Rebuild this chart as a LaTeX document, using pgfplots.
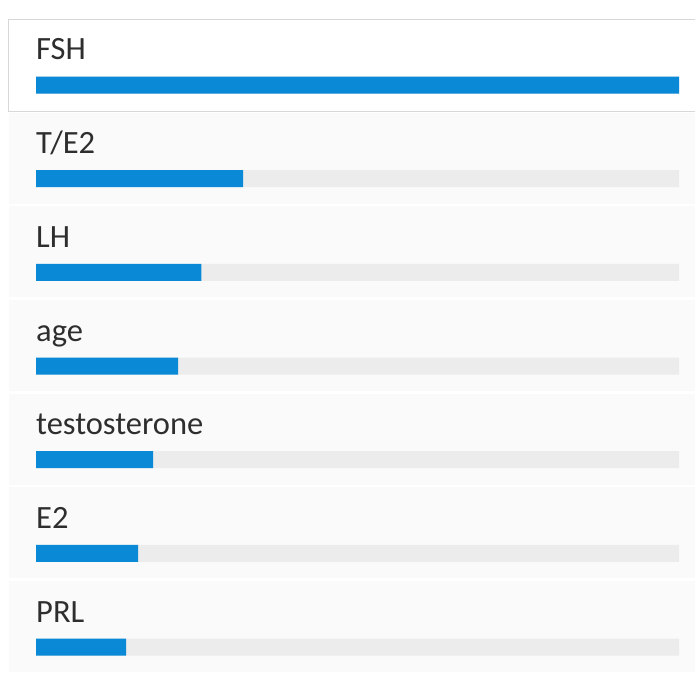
\documentclass[border=0pt]{standalone}
\usepackage{pgfplots}
\pgfplotsset{compat=1.18}
\usepackage{pgfplotstable}
\usepackage{fontspec}
\setmainfont{Carlito}
\definecolor{barblue}{HTML}{0A8AD6}
\definecolor{track}{HTML}{ECECEC}
\definecolor{rowbg}{HTML}{FAFAFA}
\definecolor{boxline}{HTML}{D8D8D8}
\definecolor{txt}{HTML}{2E2E2E}

\pgfplotstableread{
idx value full
0 1.000 1
1 0.322 1
2 0.257 1
3 0.221 1
4 0.182 1
5 0.159 1
6 0.140 1
}\datatable

\tikzset{lbl/.style={anchor=base west, inner sep=0pt, text=txt, font=\fontsize{32.5}{38}\selectfont}}

\begin{document}
\begin{tikzpicture}
\begin{axis}[
  scale only axis,
  width=695pt, height=695pt,
  xmin=-0.05599, xmax=1.02488,
  ymin=-0.9075, ymax=6.5123,
  y dir=reverse,
  axis lines=none,
  ticks=none,
  clip=true,
]
\path (rel axis cs:0,0) rectangle (rel axis cs:1,1);
% row backgrounds
\fill[white, draw=boxline, line width=1pt] (axis cs:-0.042,-0.7046) rectangle (axis cs:1.0300,0.2776);
\pgfplotsinvokeforeach{1,2,3,4,5,6}{
  \fill[rowbg] (axis cs:-0.042,{#1-0.705}) rectangle (axis cs:1.0249,{#1+0.267});
}
% tracks and bars
\addplot[xbar, bar shift=0pt, bar width=17pt, fill=track, draw=none] table[x=full, y=idx] {\datatable};
\addplot[xbar, bar shift=0pt, bar width=17pt, fill=barblue, draw=none] table[x=value, y=idx] {\datatable};
% labels
\node[lbl] at (axis cs:0,-0.267) {FSH};
\node[lbl] at (axis cs:0,0.733) {T/E2};
\node[lbl] at (axis cs:0,1.733) {LH};
\node[lbl] at (axis cs:0,2.733) {age};
\node[lbl] at (axis cs:0,3.733) {testosterone};
\node[lbl] at (axis cs:0,4.733) {E2};
\node[lbl] at (axis cs:0,5.733) {PRL};
\end{axis}
\end{tikzpicture}
\end{document}
